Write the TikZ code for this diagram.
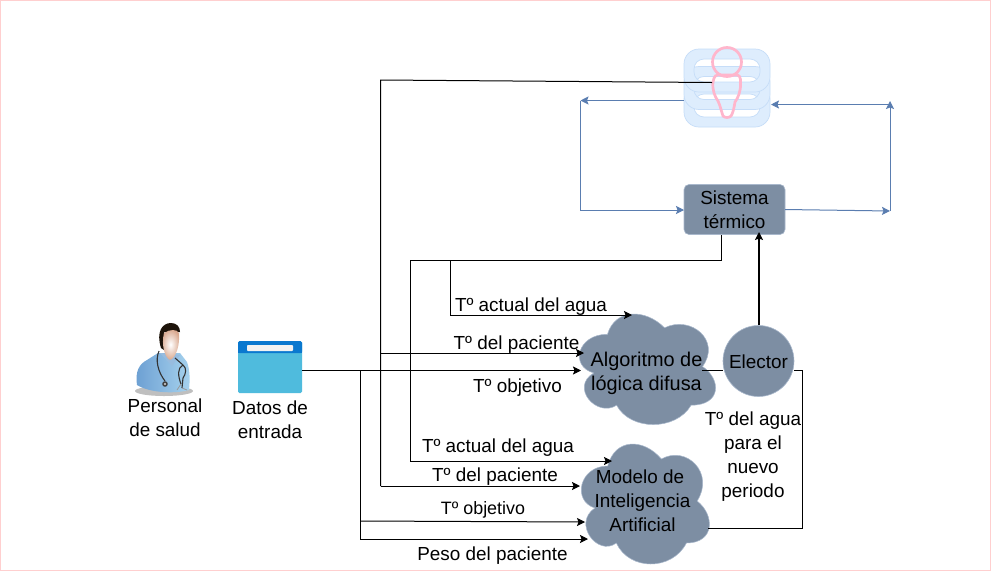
\documentclass[tikz,border=0pt]{standalone}
\usepackage{fontspec}
\setmainfont{Liberation Sans}
\usetikzlibrary{arrows.meta,calc}
\definecolor{slatefill}{HTML}{7D8EA3}
\definecolor{slateline}{HTML}{A9B8CC}
\definecolor{flowblue}{HTML}{5A7DB0}
\definecolor{dbfill}{HTML}{DEEDFD}
\definecolor{dbline}{HTML}{C6DDF8}
\definecolor{pinkline}{HTML}{FFB6CC}
\definecolor{framepink}{HTML}{FFCFCF}
\definecolor{folderbody}{HTML}{4FBBDD}
\definecolor{foldertop}{HTML}{0A78CF}
\definecolor{coatlight}{HTML}{A6D2EE}
\definecolor{coatdark}{HTML}{6C9FD2}
\definecolor{skinout}{HTML}{D9A88E}
\newcommand{\cloudpath}[5]{%
 \fill[slatefill,draw=slateline,line width=.5pt]
 ({#1+.25*#3},{#2+.25*#4})
 .. controls ({#1+.05*#3},{#2+.25*#4}) and ({#1},{#2+.5*#4}) .. ({#1+.16*#3},{#2+.55*#4})
 .. controls ({#1},{#2+.66*#4}) and ({#1+.18*#3},{#2+.9*#4}) .. ({#1+.31*#3},{#2+.8*#4})
 .. controls ({#1+.4*#3},{#2+#4}) and ({#1+.7*#3},{#2+#4}) .. ({#1+.8*#3},{#2+.8*#4})
 .. controls ({#1+#3},{#2+.8*#4}) and ({#1+#3},{#2+.6*#4}) .. ({#1+.875*#3},{#2+.5*#4})
 .. controls ({#1+#3},{#2+.3*#4}) and ({#1+.8*#3},{#2+.1*#4}) .. ({#1+.625*#3},{#2+.2*#4})
 .. controls ({#1+.5*#3},{#2+.05*#4}) and ({#1+.3*#3},{#2+.05*#4}) .. cycle;
 \coordinate (#5) at ({#1+.5*#3},{#2+.5*#4});}
\newcommand{\dbring}[1]{%
 \path[fill=dbfill,even odd rule] [rounded corners=15pt] (684,#1) rectangle (770,{#1+43})
   [rounded corners=10pt] (694,{#1+10}) rectangle (760,{#1+33});
 \draw[dbline,line width=.7pt,rounded corners=15pt] (684,#1) rectangle (770,{#1+43});
 \draw[dbline,line width=.7pt,rounded corners=10pt] (694,{#1+10}) rectangle (760,{#1+33});}
\tikzset{
 x=1pt,y=-1pt,
 txt/.style={font=\fontsize{18.9}{24}\selectfont,align=center,inner sep=0pt,text=black},
 blk/.style={draw=black,line width=1pt},
 blkarrow/.style={blk,-{Stealth[length=8,width=8,inset=1.5]}},
 blu/.style={draw=flowblue,line width=1pt},
 bluarrow/.style={blu,-{Stealth[length=8,width=8,inset=1.5]}},
 slatebox/.style={fill=slatefill,draw=slateline,line width=.6pt,rounded corners=5pt,minimum width=101,minimum height=50,inner sep=0pt},
 slatecirc/.style={fill=slatefill,draw=slateline,line width=.6pt,circle,minimum size=71,inner sep=0pt},
 pinkstroke/.style={draw=pinkline,line width=2.7pt,fill=none},
}
\begin{document}
\begin{tikzpicture}
\useasboundingbox (0,0) rectangle (991,571);
\fill[white] (0,0) rectangle (991,571);
\draw[framepink,line width=1pt] (.5,.5) rectangle (990.5,570.5);

% database icon
\dbring{84}
\dbring{66.5}
\dbring{49}
% patient
\draw[pinkstroke] (727,62) circle (14.5);
\draw[pinkstroke] (713,82) .. controls (714,76) and (716,74) .. (721,75)
 -- (735,75) .. controls (739,74) and (741,77) .. (740.5,83)
 .. controls (741,91) and (738,98) .. (735,102)
 .. controls (734,108) and (733,113) .. (731,116)
 .. controls (729,118) and (725,118) .. (723,116)
 .. controls (721,110) and (720,105) .. (718,101)
 .. controls (715,97) and (712,90) .. (713,82) -- cycle;
\coordinate (patient) at (712,82.5);

% doctor icon
\fill[black!50,opacity=.5] (164,391) ellipse (29 and 5);
\shade[left color=coatdark,right color=coatlight]
 (137,385) .. controls (135,372) and (139,364) .. (147,360)
 -- (158,353) -- (180,353) -- (187,362) .. controls (190,370) and (190,380) .. (189,390)
 .. controls (175,394) and (150,393) .. (137,385) -- cycle;
\fill[coatdark!70!white] (160,353) -- (172,366) -- (180,355) -- cycle;
\fill[black!85!brown] (161,348) .. controls (156,332) and (162,323) .. (171,323)
 .. controls (177,323) and (180,327) .. (180,332) -- (164,332) -- (164,350) -- cycle;
\shade[inner color=white,outer color=skinout]
 (164,333) .. controls (170,329) and (177,329) .. (179,333)
 .. controls (180,345) and (176,358) .. (170,360)
 .. controls (165,358) and (161,345) .. (164,333) -- cycle;
\draw[black!80,line width=1.1pt] (159,351) .. controls (155,360) and (158,372) .. (165,381);
\draw[black!80,line width=1.1pt] (175,358) -- (183,365) .. controls (187,368) and (186,374) .. (183,378) -- (182,388);
\draw[black!80,line width=1.1pt] (183,365) .. controls (177,368) and (178,376) .. (181,384);
\draw[black!40,line width=.8pt] (181,384) -- (177,390) (182,388) -- (187,390);
\fill[black!75] (165,384) circle (2.8);
\fill[white!70!gray] (165,384) circle (1.2);

% folder icon
\fill[folderbody,rounded corners=1.5pt] (238,341) rectangle (302,393);
\fill[foldertop,rounded corners=1.5pt] (238,341) rectangle (302,353);
\fill[foldertop] (238,347) rectangle (302,353);
\fill[white!90!gray,rounded corners=.8pt] (247,345) rectangle (293,351);
\coordinate (folder) at (302,370.5);

% main shapes
\node[slatebox] (sistema) at (734.5,209.5) {};
\node[slatecirc] (elector) at (758.5,361) {};
\cloudpath{569.5}{302}{152}{129}{algo}
\cloudpath{572}{431}{143}{140}{modelo}

% junctions and arrow ends
\coordinate (tlA) at (380.5,80);
\coordinate (brA) at (380.5,353);
\coordinate (blA) at (380.5,486);
\coordinate (algoP) at (584,353);
\coordinate (modP) at (580,486);
\coordinate (tlB) at (721,260.5);
\coordinate (jB) at (450,260.5);
\coordinate (lB) at (410,260.5);
\coordinate (dB) at (410,461);
\coordinate (dC) at (450,315);
\coordinate (algoW) at (632,315);
\coordinate (modW) at (612,461);
\coordinate (jC) at (360,370.5);
\coordinate (algoO) at (581,370.5);
\coordinate (jC2) at (360,521);
\coordinate (modO) at (585,522);
\coordinate (jC3) at (360,539);
\coordinate (modPeso) at (588,539);
\coordinate (algoOut) at (702,370.5);
\coordinate (elecIn) at (723,370.5);
\coordinate (elecOut) at (794,370.5);
\coordinate (cnr1) at (802,370.5);
\coordinate (cnr2) at (802,528);
\coordinate (modOut) at (708,528);
\coordinate (eleTop) at (759,325);
\coordinate (sisIn) at (759,232);
\coordinate (sisBot) at (721,235);
\coordinate (bL1) at (684,100.5);
\coordinate (bL2) at (580.5,100.5);
\coordinate (bL3) at (580.5,210);
\coordinate (sisL) at (684,210);
\coordinate (sisR) at (785,209.5);
\coordinate (bR1) at (890,211);
\coordinate (bR2) at (890,101);
\coordinate (bR3) at (890,104.5);
\coordinate (dbR) at (771,104.5);

% blue flows
\draw[bluarrow] (bL1) -- (bL2);
\draw[bluarrow] (bL2) -- (bL3) -- (sisL);
\draw[bluarrow] (sisR) -- (bR1);
\draw[bluarrow] (bR1) -- (bR2);
\draw[bluarrow] (bR3) -- (dbR);

% black flows
\draw[blk] (patient) -- (tlA) -- (blA);
\draw[blkarrow] (brA) -- (algoP);
\draw[blkarrow] (blA) -- (modP);
\draw[blk] (sisBot) -- (tlB) -- (lB);
\draw[blkarrow] (lB) -- (dB) -- (modW);
\draw[blkarrow] (jB) -- (dC) -- (algoW);
\draw[blkarrow] (folder) -- (algoO);
\draw[blk] (jC) -- (jC3);
\draw[blkarrow] (jC2) -- (modO);
\draw[blkarrow] (jC3) -- (modPeso);
\draw[blk] (algoOut) -- (elecIn);
\draw[blk] (elecOut) -- (cnr1) -- (cnr2) -- (modOut);
\draw[blkarrow,line width=1.4pt] (eleTop) -- (sisIn);

% texts
\node[txt] at (734.5,210) {Sistema\\térmico};
\node[txt] at (758.5,361.5) {Elector};
\node[txt,font=\fontsize{19.9}{24}\selectfont] at (646.5,373) {Algoritmo de\\lógica difusa};
\node[txt] at (642.5,500.5) {Modelo de\hspace*{5pt}\\Inteligencia\\Artificial};
\node[txt] at (165,417.5) {Personal\\de salud};
\node[txt] at (270,420) {Datos de\\entrada};
\node[txt] at (531,307) {Tº actual del agua};
\node[txt] at (516.5,345) {Tº del paciente};
\node[txt] at (517.5,388) {Tº objetivo};
\node[txt] at (498,448) {Tº actual del agua};
\node[txt] at (495,477) {Tº del paciente};
\node[txt,font=\fontsize{17.9}{24}\selectfont] at (483,510) {Tº objetivo};
\node[txt] at (492.5,555.5) {Peso del paciente};
\node[txt] at (753,457) {Tº del agua\\para el\\nuevo\\periodo};
\end{tikzpicture}
\end{document}
